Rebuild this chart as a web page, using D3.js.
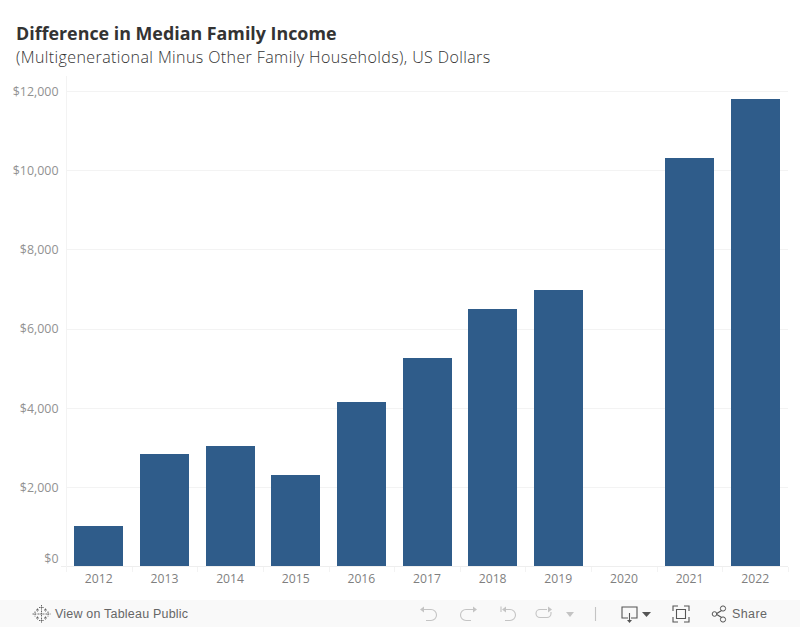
<!DOCTYPE html>
<html><head><meta charset="utf-8">
<script src="https://cdn.jsdelivr.net/npm/d3@7"></script>
<style>html,body{margin:0;padding:0;background:#fff;overflow:hidden}svg{display:block}</style>
</head><body><svg id="c" width="800" height="627"></svg>
<script>
const years = ["2012","2013","2014","2015","2016","2017","2018","2019","2020","2021","2022"];
const incomeDiff = [1020,2830,3035,2310,4150,5260,6500,6985,null,10320,11810];
const yTicks = [0,2000,4000,6000,8000,10000,12000];
const titleText = "Difference in Median Family Income";
const subtitleText = "(Multigenerational Minus Other Family Households), US Dollars";

const svg = d3.select("#c");
const font = "'Open Sans',sans-serif";
const x = d3.scaleBand().domain(years).range([66,788]).paddingInner(0.255).paddingOuter(0.127);
const y = d3.scaleLinear().domain([0,12000]).range([566.5,91.5]);

svg.append("text").attr("x",16).attr("y",40).attr("font-family",font).attr("font-weight",700)
  .attr("font-size",17.85).attr("fill","#333").text(titleText);
svg.append("text").attr("x",16).attr("y",63).attr("font-family",font).attr("font-weight",300)
  .attr("font-size",16).attr("letter-spacing",0.4).attr("fill","#333").text(subtitleText);

// grid
svg.append("g").selectAll("line").data(yTicks).join("line")
  .attr("x1",d=>d===0?61:66).attr("x2",788).attr("y1",d=>Math.floor(y(d))+0.5).attr("y2",d=>Math.floor(y(d))+0.5)
  .attr("stroke",d=>d===0?"#eeeeee":"#f3f3f3");
svg.append("line").attr("x1",66.5).attr("x2",66.5).attr("y1",76).attr("y2",572).attr("stroke","#f3f3f3");

// y axis
const yAxis = svg.append("g").attr("transform","translate(66,0)")
  .call(d3.axisLeft(y).tickValues(yTicks).tickSize(0).tickPadding(7.5).tickFormat(d=>"$"+d3.format(",")(d)));
yAxis.select(".domain").remove();
yAxis.selectAll("text").attr("font-family",font).attr("font-size",12.4).attr("fill","#919191")
  .attr("dy",d=>d===0?"-0.32em":"0.32em");

// bars
svg.append("g").selectAll("rect").data(years.map((k,i)=>({k,v:incomeDiff[i]})).filter(d=>d.v!=null)).join("rect")
  .attr("x",d=>Math.round(x(d.k))).attr("width",49).attr("y",d=>Math.round(y(d.v))).attr("height",d=>566-Math.round(y(d.v)))
  .attr("fill","#2f5c8a");

// x axis
const step = x.step();
svg.append("g").selectAll("line").data(years).join("line")
  .attr("x1",d=>Math.round(x(d)+x.bandwidth()+(step-x.bandwidth())/2)+0.5)
  .attr("x2",d=>Math.round(x(d)+x.bandwidth()+(step-x.bandwidth())/2)+0.5)
  .attr("y1",567).attr("y2",572).attr("stroke","#f3f3f3");
const xAxis = svg.append("g").attr("transform","translate(0,566)")
  .call(d3.axisBottom(x).tickSize(0).tickPadding(8));
xAxis.select(".domain").remove();
xAxis.selectAll("text").attr("font-family",font).attr("font-size",12.2).attr("fill","#7f7f7f");

// toolbar
const bar = svg.append("g");
bar.append("rect").attr("x",0).attr("y",600).attr("width",800).attr("height",27).attr("fill","#f9f9f9");
const logo = bar.append("g").attr("transform","translate(41.5,614)").attr("stroke","#666").attr("stroke-width",1).attr("fill","none").attr("stroke-dasharray","1.5 0.7");
[[0,0,3.5],[0,-6.5,2.5],[0,6.5,2.5],[-6.5,0,2.5],[6.5,0,2.5],[-4,-4,1.5],[4,-4,1.5],[-4,4,1.5],[4,4,1.5]].forEach(p=>{
  logo.append("path").attr("d",`M${p[0]-p[2]},${p[1]}H${p[0]+p[2]}M${p[0]},${p[1]-p[2]}V${p[1]+p[2]}`);
});
bar.append("text").attr("x",55).attr("y",618).attr("font-family","'Liberation Sans',Arial,sans-serif").attr("font-size",12.5).attr("letter-spacing",0.2).attr("fill","#666").text("View on Tableau Public");
bar.append("text").attr("x",732).attr("y",618).attr("font-family","'Liberation Sans',Arial,sans-serif").attr("font-size",12.5).attr("letter-spacing",0.4).attr("fill","#666").text("Share");
const faint = "#c4c4c4", dark = "#555";
const ic = (d,c,f)=>bar.append("path").attr("d",d).attr("fill",f||"none").attr("stroke",f?"none":c).attr("stroke-width",1.1);
ic("M421,609.5H431a5.5,5.5 0 0 1 0,11H426",faint);
ic("M420,609.5l4,-3v6z",faint,faint);
ic("M476,609.5H466a5.5,5.5 0 0 0 0,11H471",faint);
ic("M477,609.5l-4,-3v6z",faint,faint);
ic("M501,606.5V612M503,609.5H510a5.5,5.5 0 0 1 0,11H505",faint);
ic("M502,609.5l4,-3v6z",faint,faint);
ic("M547,609.5H540a4,4 0 0 0 0,8H547a4,4 0 0 0 4,-4V612",faint);
ic("M552,609.5l-4,-3v6z",faint,faint);
ic("M566,612h8l-4,5z",faint,faint);
ic("M595.5,607V621",faint);
ic("M628,618H622V607H637V618H631M629.5,613V621",dark);
ic("M627,620h5l-2.5,3z",dark,dark);
ic("M642,612h9l-4.5,5z",dark,dark);
ic("M673,611V606H678M684,606H689V611M689,617V622H684M678,622H673V617",dark);
ic("M676.5,609.5H685.5V618.5H676.5z",dark);
ic("M716,614L724,609M716,614L724,619",dark);
bar.append("circle").attr("cx",714.5).attr("cy",614).attr("r",2.3).attr("fill","#f9f9f9").attr("stroke",dark);
bar.append("circle").attr("cx",723).attr("cy",608.5).attr("r",2.6).attr("fill","#f9f9f9").attr("stroke",dark);
bar.append("circle").attr("cx",723).attr("cy",619.5).attr("r",2.6).attr("fill","#f9f9f9").attr("stroke",dark);
</script></body></html>
